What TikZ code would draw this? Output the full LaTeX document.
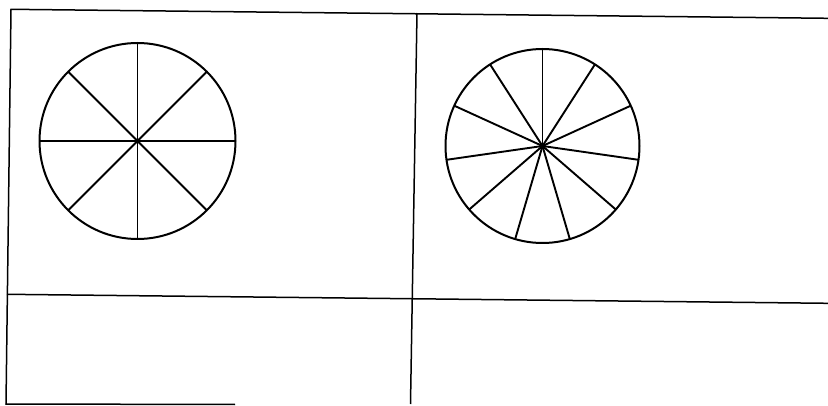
\documentclass[tikz,border=0pt]{standalone}
\begin{document}
\begin{tikzpicture}[x=1pt,y=-1pt,
  gridline/.style={line width=1.5pt,black},
  wheel/.style={line width=2pt,black},
  spoke/.style={line width=1.9pt,black}]
\useasboundingbox (0,0) rectangle (828,406);
% grid
\coordinate (tl) at (11,9.3);
\coordinate (tr) at (828,18.3);
\coordinate (bl) at (6,404);
\coordinate (ml) at (7,294.3);
\coordinate (mr) at (828,303.3);
\coordinate (mt) at (417,13);
\coordinate (mb) at (410.5,404);
\coordinate (be) at (235,404.5);
\draw[gridline] (tr) -- (tl) -- (bl) -- (be);
\draw[gridline] (ml) -- (mr);
\draw[gridline] (mt) -- (mb);
% left wheel, 8 spokes
\coordinate (c1) at (137.5,141);
\draw[wheel] (c1) circle[radius=98];
\foreach \a in {0,45,...,315}
  \draw[spoke] (c1) -- ++(\a:98);
\fill (c1) circle[radius=2.5];
% right wheel, 11 spokes
\coordinate (c2) at (542.5,146);
\draw[wheel] (c2) circle[radius=97];
\foreach \k in {0,...,10}
  \draw[spoke] (c2) -- ++({-90-\k*360/11}:97);
\fill (c2) circle[radius=3];
\end{tikzpicture}
\end{document}
